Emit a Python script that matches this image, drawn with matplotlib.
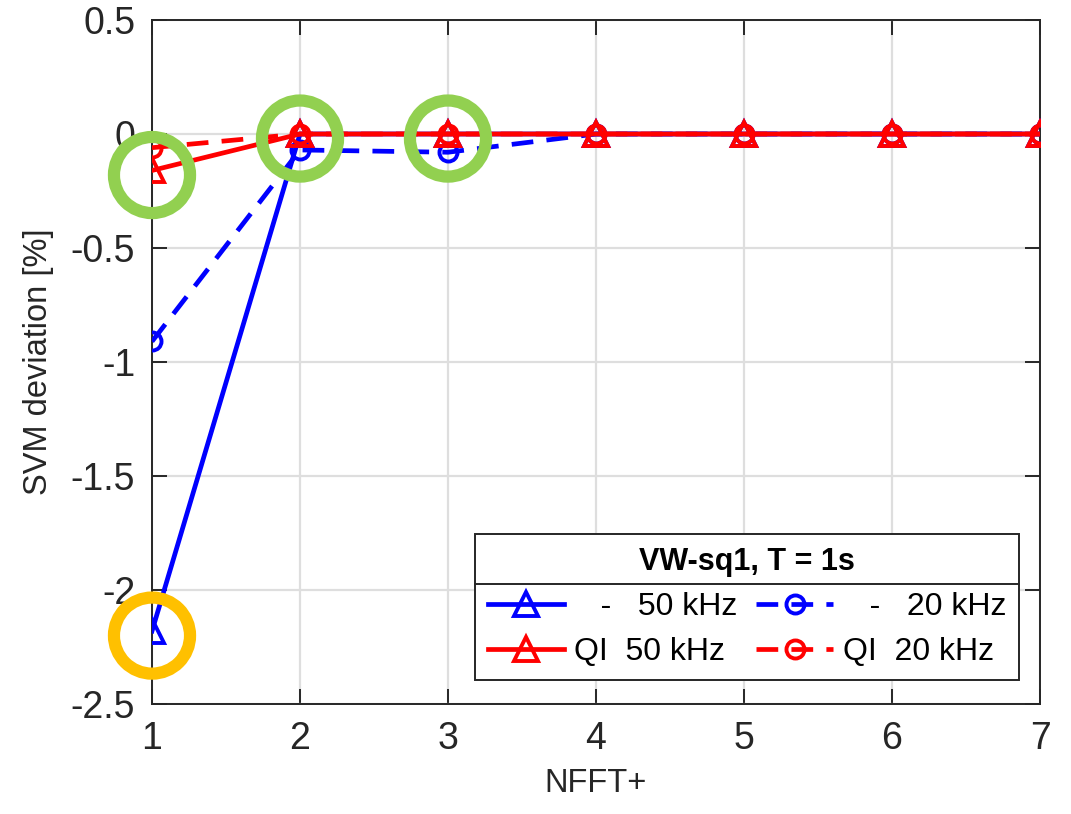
import matplotlib
matplotlib.use("Agg")
import matplotlib.pyplot as plt
from matplotlib.lines import Line2D

plt.rcParams['font.family'] = ['Liberation Sans', 'DejaVu Sans']

nfft = [1, 2, 3, 4, 5, 6, 7]
plain_50k = [-2.18, 0, 0, 0, 0, 0, 0]
plain_20k = [-0.91, -0.07, -0.08, 0, 0, 0, 0]
qi_50k = [-0.16, 0, 0, 0, 0, 0, 0]
qi_20k = [-0.06, 0, 0, 0, 0, 0, 0]

green_pts_x = [1, 2, 3]
green_pts_y = [-0.18, -0.02, -0.02]
orange_pts_x = [1]
orange_pts_y = [-2.2]

xticks = [1, 2, 3, 4, 5, 6, 7]
yticks = [-2.5, -2, -1.5, -1, -0.5, 0, 0.5]
ytick_labels = ['-2.5', '-2', '-1.5', '-1', '-0.5', '0', '0.5']

W, H = 1071, 814
L, R, T, B = 152, 1040, 20, 704
fig = plt.figure(figsize=(W/100, H/100), dpi=100)
ax = fig.add_axes([L/W, 1-B/H, (R-L)/W, (B-T)/H])

lw = 3.4
mew = 2.8
tri_ms = 17
cir_ms = 13
dash = (4.6, 2.8)
ax.plot(nfft, plain_50k, '-', color='#0000ff', lw=lw, marker='^', ms=tri_ms, mfc='none', mew=mew, label='   -   50 kHz', zorder=3)
ax.plot(nfft, plain_20k, '--', color='#0000ff', lw=lw, marker='o', ms=cir_ms, mfc='none', mew=mew, dashes=dash, label='   -   20 kHz', zorder=3)
ax.plot(nfft, qi_50k, '-', color='#ff0000', lw=lw, marker='^', ms=tri_ms, mfc='none', mew=mew, label='QI  50 kHz', zorder=4)
ax.plot(nfft, qi_20k, '--', color='#ff0000', lw=lw, marker='o', ms=cir_ms, mfc='none', mew=mew, dashes=dash, label='QI  20 kHz', zorder=4)

ring_s = 3000
ring_lw = 8.8
ax.scatter(green_pts_x, green_pts_y, s=ring_s, facecolors='none', edgecolors='#92d050', linewidths=ring_lw, zorder=5, clip_on=False)
ax.scatter(orange_pts_x, orange_pts_y, s=ring_s, facecolors='none', edgecolors='#ffc000', linewidths=ring_lw, zorder=5, clip_on=False)

ax.set_xlim(1, 7)
ax.set_ylim(-2.5, 0.5)
ax.set_xticks(xticks)
ax.set_yticks(yticks)
ax.set_yticklabels(ytick_labels)
ax.grid(True, color='#dedede', lw=1.6)
ax.set_axisbelow(True)
ax.tick_params(direction='in', length=11, width=1.4, labelsize=27, colors='#262626', pad=12)
for s in ax.spines.values():
    s.set_color('#262626')
    s.set_linewidth(1.4)
ax.tick_params(top=True, right=True)
ax.set_xlabel('NFFT+', fontsize=23.5, color='#262626', labelpad=8)
ax.set_ylabel('SVM deviation [%]', fontsize=23.5, color='#262626', labelpad=12)

h, l = ax.get_legend_handles_labels()
order = [0, 2, 1, 3]
lx0 = (475-L)/(R-L)
lx1 = (1019-L)/(R-L)
ly_top = (B-534)/(B-T)
leg = ax.legend([h[i] for i in order], [l[i] for i in order], ncol=2, loc='upper left',
                bbox_to_anchor=(lx0, ly_top - 0.3, lx1-lx0, 0.3), mode='expand',
                title='VW-sq1, T = 1s', title_fontproperties={'weight': 'bold', 'size': 22},
                fontsize=23, fancybox=False, edgecolor='#262626', framealpha=1,
                handlelength=2.4, columnspacing=0.6, handletextpad=0.3, borderpad=0.4,
                labelspacing=0.48, borderaxespad=0)
leg.get_frame().set_linewidth(1.4)
leg.set_zorder(6)
ysep = (B-584)/(B-T)
ax.add_line(Line2D([lx0, lx1], [ysep, ysep], transform=ax.transAxes, color='#262626', lw=1.4, zorder=7))

fig.savefig('out.png', dpi=100)
